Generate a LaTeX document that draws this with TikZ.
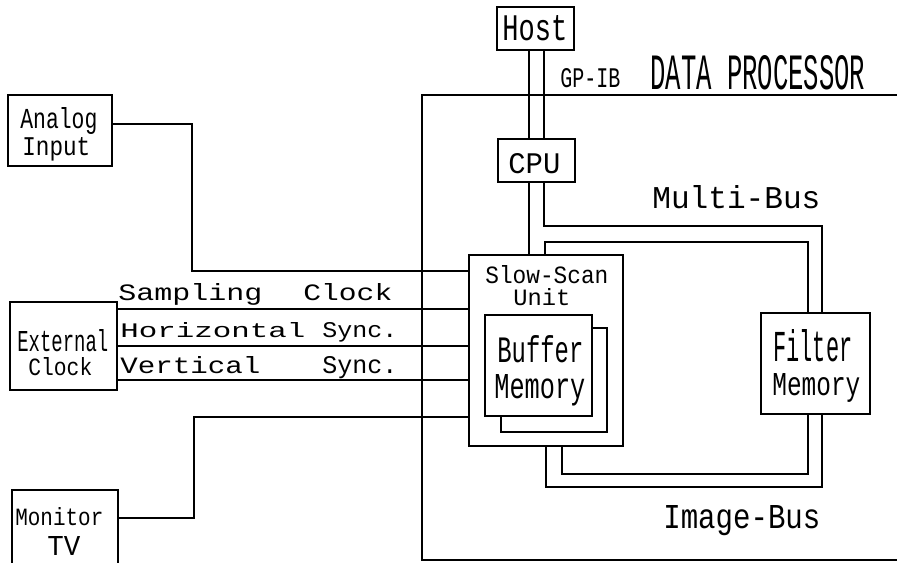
\documentclass[tikz,border=0pt]{standalone}
\usepackage{fontspec}
\setmainfont{Liberation Mono}
\usepackage{graphicx}
\newlength\pxu
\setlength\pxu{0.02cm}
\newcommand\lbl[3]{\resizebox{#1\pxu}{#2\pxu}{#3}}
\tikzset{
  box/.style={draw, line width=0.8pt, inner sep=0pt, fill=white},
  wire/.style={line width=0.8pt},
  txt/.style={anchor=base west, inner sep=0pt}
}
\begin{document}
\begin{tikzpicture}[x=0.02cm, y=-0.02cm]
\useasboundingbox (0,0) rectangle (897,562);
% frame of the data processor
\draw[wire] (900,95) -- (422,95) -- (422,560) -- (900,560);
% boxes
\node[box, minimum width=77\pxu, minimum height=43\pxu] (host) at (535.5,28.5) {};
\node[box, minimum width=77\pxu, minimum height=43\pxu] (cpu) at (536.5,160.5) {};
\node[box, minimum width=104\pxu, minimum height=71\pxu] (analog) at (60,130.5) {};
\node[box, minimum width=107\pxu, minimum height=88\pxu] (ext) at (63.5,346) {};
\node[box, minimum width=106\pxu, minimum height=78\pxu] (mon) at (65,529) {};
\node[box, minimum width=154\pxu, minimum height=191\pxu] (ssu) at (546,350.5) {};
\node[box, minimum width=106\pxu, minimum height=104\pxu] (shadow) at (554,380) {};
\node[box, minimum width=107\pxu, minimum height=101\pxu] (buf) at (538.5,365.5) {};
\node[box, minimum width=109\pxu, minimum height=101\pxu] (filt) at (815.5,363.5) {};
% GP-IB
\draw[wire] (host.south -| 529,0) -- (cpu.north -| 529,0);
\draw[wire] (host.south -| 544,0) -- (cpu.north -| 544,0);
% CPU to slow-scan unit
\draw[wire] (cpu.south -| 529,0) -- (ssu.north -| 529,0);
% Multi-Bus
\draw[wire] (cpu.south -| 544,0) -- (544,226) -- (822,226) -- (filt.north -| 822,0);
\draw[wire] (ssu.north -| 545,0) -- (545,242) -- (808,242) -- (filt.north -| 808,0);
% Image-Bus
\draw[wire] (ssu.south -| 546,0) -- (546,487) -- (822,487) -- (filt.south -| 822,0);
\draw[wire] (ssu.south -| 562,0) -- (562,474) -- (808,474) -- (filt.south -| 808,0);
% left side signals
\draw[wire] (analog.east |- 0,124) -- (192,124) -- (192,271) -- (ssu.west |- 0,271);
\draw[wire] (ext.east |- 0,309) -- (ssu.west |- 0,309);
\draw[wire] (ext.east |- 0,346) -- (ssu.west |- 0,346);
\draw[wire] (ext.east |- 0,380) -- (ssu.west |- 0,380);
\draw[wire] (mon.east |- 0,518) -- (194,518) -- (194,417) -- (ssu.west |- 0,417);
% texts
\node[txt] (tdp) at (650,89) {\lbl{215}{34}{DATA PROCESSOR}};
\node[txt] (tgp) at (560,87) {\lbl{60}{19}{GP-IB}};
\node[txt] (thost) at (502,40) {\lbl{65}{25}{Host}};
\node[txt] (tcpu) at (508,173) {\lbl{52}{20}{CPU}};
\node[txt] (tmb) at (652,208) {\lbl{168}{23}{Multi-Bus}};
\node[txt] (tib) at (663,528) {\lbl{157}{23}{Image-Bus}};
\node[txt] (tss1) at (485,283) {\lbl{123}{18}{Slow-Scan}};
\node[txt] (tss2) at (513,305) {\lbl{57}{17}{Unit}};
\node[txt] (tbuf1) at (497,362) {\lbl{86}{27}{Buffer}};
\node[txt] (tbuf2) at (494,398) {\lbl{91}{24}{Memory}};
\node[txt] (tf1) at (773,361) {\lbl{79}{32}{Filter}};
\node[txt] (tf2) at (772,395) {\lbl{88}{22}{Memory}};
\node[txt] (tan1) at (20,128) {\lbl{77}{21}{Analog}};
\node[txt] (tan2) at (22,155) {\lbl{68}{18}{Input}};
\node[txt] (tex1) at (17,351) {\lbl{91}{22}{External}};
\node[txt] (tex2) at (28,375) {\lbl{64}{18}{Clock}};
\node[txt] (tmo1) at (15,525) {\lbl{88}{18}{Monitor}};
\node[txt] (tmo2) at (47,555) {\lbl{33}{19}{TV}};
\node[txt] (tsa1) at (118,300) {\lbl{144}{17}{Sampling}};
\node[txt] (tsa2) at (303,300) {\lbl{89}{17}{Clock}};
\node[txt] (th1) at (120,337) {\lbl{185}{15}{Horizontal}};
\node[txt] (th2) at (322,337) {\lbl{75}{15}{Sync.}};
\node[txt] (tv1) at (120,373) {\lbl{140}{17}{Vertical}};
\node[txt] (tv2) at (322,373) {\lbl{75}{17}{Sync.}};
\end{tikzpicture}
\end{document}
